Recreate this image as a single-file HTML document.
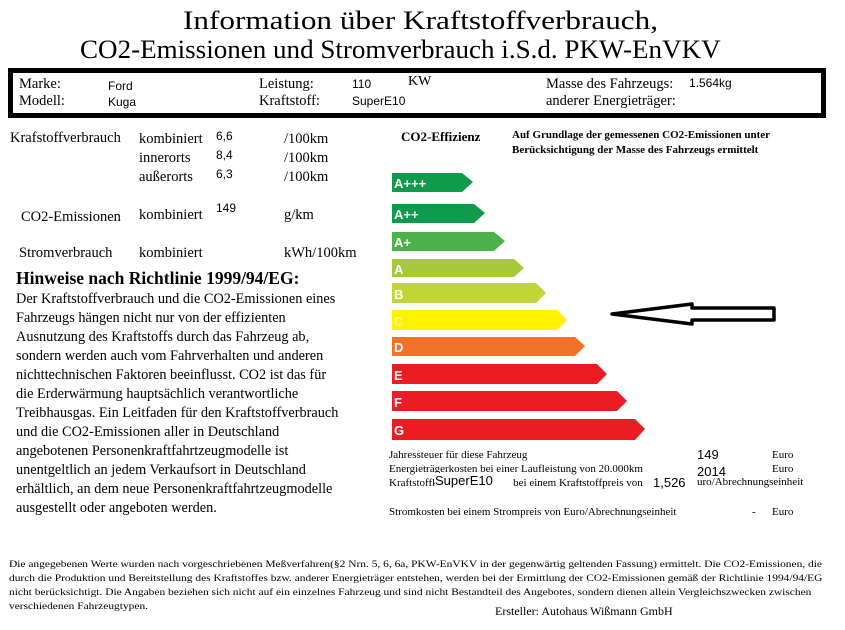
<!DOCTYPE html>
<html><head><meta charset="utf-8"><style>
body{margin:0;width:845px;height:630px;background:#fff;position:relative;overflow:hidden;font-family:"Liberation Serif",serif;color:#000}
.a{position:absolute;white-space:nowrap}
.s{font-family:"Liberation Sans",sans-serif}
</style></head><body>
<div class="a" style="left:183px;top:6px;font-size:26px;line-height:30px;transform:scaleX(1.2);transform-origin:left top">Information über Kraftstoffverbrauch,</div>
<div class="a" style="left:80px;top:35px;font-size:26px;line-height:30px;transform:scaleX(1.04);transform-origin:left top">CO2-Emissionen und Stromverbrauch i.S.d. PKW-EnVKV</div>
<div class="a" style="left:8px;top:68px;width:808px;height:40px;border:5px solid #000"></div>
<div class="a" style="left:19px;top:76px;font-size:14.5px;line-height:17px">Marke:<br>Modell:</div>
<div class="a s" style="left:108px;top:78px;font-size:12px;line-height:16px">Ford<br>Kuga</div>
<div class="a" style="left:259px;top:76px;font-size:14.5px;line-height:17px">Leistung:<br>Kraftstoff:</div>
<div class="a s" style="left:352px;top:76px;font-size:12px;line-height:17px">110<br>SuperE10</div>
<div class="a" style="left:408px;top:74px;font-size:14px">KW</div>
<div class="a" style="left:546px;top:76px;font-size:14.5px;line-height:17px">Masse des Fahrzeugs:<br>anderer Energieträger:</div>
<div class="a s" style="left:689px;top:76px;font-size:12px">1.564kg</div>

<div class="a" style="left:10px;top:130px;font-size:14.5px">Krafstoffverbrauch</div>
<div class="a" style="left:139px;top:130px;font-size:14.5px;line-height:19px">kombiniert<br>innerorts<br>außerorts</div>
<div class="a s" style="left:216px;top:127px;font-size:12px;line-height:19px">6,6<br>8,4<br>6,3</div>
<div class="a" style="left:284px;top:130px;font-size:14.5px;line-height:19px">/100km<br>/100km<br>/100km</div>
<div class="a" style="left:21px;top:209px;font-size:14.5px">CO2-Emissionen</div>
<div class="a" style="left:139px;top:207px;font-size:14.5px">kombiniert</div>
<div class="a s" style="left:216px;top:201px;font-size:12px">149</div>
<div class="a" style="left:284px;top:207px;font-size:14.5px">g/km</div>
<div class="a" style="left:19px;top:245px;font-size:14.5px">Stromverbrauch</div>
<div class="a" style="left:139px;top:245px;font-size:14.5px">kombiniert</div>
<div class="a" style="left:284px;top:245px;font-size:14.5px">kWh/100km</div>

<div class="a" style="left:16px;top:268px;font-size:17.5px;font-weight:bold">Hinweise nach Richtlinie 1999/94/EG:</div>
<div class="a" style="left:16px;top:290px;font-size:14.3px;line-height:19px">Der Kraftstoffverbrauch und die CO2-Emissionen eines<br>Fahrzeugs hängen nicht nur von der effizienten<br>Ausnutzung des Kraftstoffs durch das Fahrzeug ab,<br>sondern werden auch vom Fahrverhalten und anderen<br>nichttechnischen Faktoren beeinflusst. CO2 ist das für<br>die Erderwärmung hauptsächlich verantwortliche<br>Treibhausgas. Ein Leitfaden für den Kraftstoffverbrauch<br>und die CO2-Emissionen aller in Deutschland<br>angebotenen Personenkraftfahrtzeugmodelle ist<br>unentgeltlich an jedem Verkaufsort in Deutschland<br>erhältlich, an dem neue Personenkraftfahrtzeugmodelle<br>ausgestellt oder angeboten werden.</div>

<div class="a" style="left:401px;top:129px;font-size:13px;font-weight:bold">CO2-Effizienz</div>
<div class="a" style="left:512px;top:128px;font-size:11px;font-weight:bold;line-height:15px">Auf Grundlage der gemessenen CO2-Emissionen unter<br>Berücksichtigung der Masse des Fahrzeugs ermittelt</div>

<svg class="a" style="left:0;top:0" width="845" height="630">
<g font-family="Liberation Sans,sans-serif" font-weight="bold" font-size="13" fill="#fff">
<polygon points="392,173 462,173 473,182 462,192 392,192" fill="#0f9a4c"/><text x="394" y="188">A+++</text>
<polygon points="392,204 474,204 485,213 474,223 392,223" fill="#0f9a4c"/><text x="394" y="219">A++</text>
<polygon points="392,232 494,232 505,241 494,251 392,251" fill="#4cb14a"/><text x="394" y="247">A+</text>
<polygon points="392,259 514,259 524,268 514,277 392,277" fill="#a6c93a"/><text x="394" y="274">A</text>
<polygon points="392,283 536,283 546,293 536,303 392,303" fill="#bfd637"/><text x="394" y="299">B</text>
<polygon points="392,310 557,310 567,320 557,330 392,330" fill="#fff200"/><text x="394" y="326" fill="#f6f6a0">C</text>
<polygon points="392,337 575,337 585,346 575,356 392,356" fill="#f07127"/><text x="394" y="352">D</text>
<polygon points="392,364 597,364 607,374 597,384 392,384" fill="#ec1c24"/><text x="394" y="380">E</text>
<polygon points="392,391 617,391 627,401 617,411 392,411" fill="#ec1c24"/><text x="394" y="407">F</text>
<polygon points="392,419 635,419 645,429 635,440 392,440" fill="#ec1c24"/><text x="394" y="435">G</text>
</g>
<polygon points="612,314 692,304 692,308 774,308 774,320 692,320 692,324" fill="#fff" stroke="#000" stroke-width="3.5" stroke-linejoin="round"/>
</svg>

<div class="a" style="left:389px;top:448px;font-size:11px;line-height:14px">Jahressteuer für diese Fahrzeug<br>Energieträgerkosten bei einer Laufleistung von 20.000km<br>Kraftstoffkosten &nbsp; &nbsp; &nbsp; &nbsp; &nbsp; &nbsp; &nbsp; &nbsp; &nbsp; bei einem Kraftstoffpreis von</div>
<div class="a s" style="left:435px;top:473px;font-size:13px;background:#fff;padding-right:3px">SuperE10</div>
<div class="a s" style="left:653px;top:475px;font-size:13px;background:#fff">1,526</div>
<div class="a" style="left:697px;top:476px;font-size:11px;background:#fff">uro/Abrechnungseinheit</div>
<div class="a s" style="left:697px;top:447px;font-size:13px">149</div>
<div class="a s" style="left:697px;top:464px;font-size:13px">2014</div>
<div class="a" style="left:772px;top:448px;font-size:11px;line-height:14px">Euro<br>Euro</div>
<div class="a" style="left:389px;top:506px;font-size:11px">Stromkosten bei einem Strompreis von Euro/Abrechnungseinheit</div>
<div class="a" style="left:752px;top:506px;font-size:11px">-</div>
<div class="a" style="left:772px;top:506px;font-size:11px">Euro</div>

<div class="a" style="left:9px;top:558px;font-size:9.7px;line-height:14px;transform:scaleX(1.18);transform-origin:left top">Die angegebenen Werte wurden nach vorgeschriebenen Meßverfahren(§2 Nrn. 5, 6, 6a, PKW-EnVKV in der gegenwärtig geltenden Fassung) ermittelt. Die CO2-Emissionen, die<br>durch die Produktion und Bereitstellung des Kraftstoffes bzw. anderer Energieträger entstehen, werden bei der Ermittlung der CO2-Emissionen gemäß der Richtlinie 1994/94/EG<br>nicht berücksichtigt. Die Angaben beziehen sich nicht auf ein einzelnes Fahrzeug und sind nicht Bestandteil des Angebotes, sondern dienen allein Vergleichszwecken zwischen<br>verschiedenen Fahrzeugtypen.</div>
<div class="a" style="left:495px;top:604px;font-size:12px">Ersteller: Autohaus Wißmann GmbH</div>
</body></html>
